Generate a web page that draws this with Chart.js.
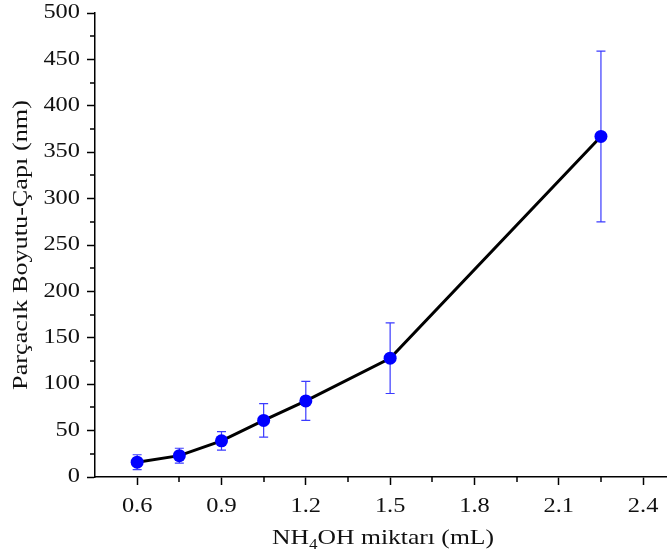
<!DOCTYPE html>
<html>
<head>
<meta charset="utf-8">
<script src="https://cdn.jsdelivr.net/npm/chart.js@4"></script>
<style>
  body { margin: 0; background: #fff; }
  #wrap { width: 667px; height: 557px; position: relative; }
</style>
</head>
<body>
<div id="wrap"><canvas id="sizeChart"></canvas></div>
<script>
// data
var amounts = [0.6, 0.75, 0.9, 1.05, 1.2, 1.5, 2.25];     // NH4OH (mL)
var sizes = [16, 23, 39, 61, 82, 128, 367];              // particle size (nm)
var sizeErr = [8, 8, 10, 18, 21, 38, 92];
var xTicks = [0.6, 0.9, 1.2, 1.5, 1.8, 2.1, 2.4];
var xMinorTicks = [0.75, 1.05, 1.35, 1.65, 1.95, 2.25];
var yMinorTicks = [25, 75, 125, 175, 225, 275, 325, 375, 425, 475];

var serif = "'Liberation Serif', 'Times New Roman', serif";
var stretch = 1.22; // the original font is wider than Liberation Serif

// widen every text draw a little around its anchor point
var wideText = {
  id: 'wideText',
  beforeDraw: function(chart) {
    var ctx = chart.ctx;
    if (ctx._wide) return;
    var orig = ctx.fillText;
    ctx.fillText = function(t, x, y) {
      this.save();
      this.translate(x, y);
      this.scale(stretch, 1);
      orig.call(this, t, 0, 0);
      this.restore();
    };
    ctx._wide = true;
  }
};

// error bars, drawn under the markers
var errorBars = {
  id: 'errorBars',
  beforeDatasetsDraw: function(chart) {
    var ctx = chart.ctx, xs = chart.scales.x, ys = chart.scales.y;
    ctx.save();
    ctx.strokeStyle = '#3b3bff';
    ctx.lineWidth = 1.2;
    for (var i = 0; i < amounts.length; i++) {
      var px = xs.getPixelForValue(amounts[i]);
      var top = ys.getPixelForValue(sizes[i] + sizeErr[i]);
      var bot = ys.getPixelForValue(sizes[i] - sizeErr[i]);
      ctx.beginPath();
      ctx.moveTo(px, top); ctx.lineTo(px, bot);
      ctx.moveTo(px - 4.5, top); ctx.lineTo(px + 4.5, top);
      ctx.moveTo(px - 4.5, bot); ctx.lineTo(px + 4.5, bot);
      ctx.stroke();
    }
    ctx.restore();
  }
};

// minor ticks and the x title with subscript
var extras = {
  id: 'extras',
  afterDraw: function(chart) {
    var ctx = chart.ctx, xs = chart.scales.x, ys = chart.scales.y, area = chart.chartArea;
    ctx.save();
    ctx.strokeStyle = '#000';
    ctx.lineWidth = 1.5;
    ctx.beginPath();
    xMinorTicks.forEach(function(v) {
      var px = Math.round(xs.getPixelForValue(v));
      ctx.moveTo(px, area.bottom); ctx.lineTo(px, area.bottom + 5);
    });
    yMinorTicks.forEach(function(v) {
      var py = Math.round(ys.getPixelForValue(v));
      ctx.moveTo(area.left, py); ctx.lineTo(area.left - 5, py);
    });
    ctx.stroke();

    // x axis title: NH4OH miktarı (mL)
    var big = '21px ' + serif, small = '14px ' + serif;
    var parts = [['NH', big, 0], ['4', small, 5], ['OH miktarı (mL)', big, 0]];
    var total = 0;
    parts.forEach(function(p) { ctx.font = p[1]; total += ctx.measureText(p[0]).width * stretch; });
    var x = (area.left + area.right) / 2 - total / 2 + 2;
    var base = 544;
    ctx.fillStyle = '#111';
    ctx.textBaseline = 'alphabetic';
    ctx.textAlign = 'left';
    parts.forEach(function(p) {
      ctx.font = p[1];
      ctx.fillText(p[0], x, base + p[2]);
      x += ctx.measureText(p[0]).width * stretch;
    });
    ctx.restore();
  }
};

var points = amounts.map(function(a, i) { return { x: a, y: sizes[i] }; });

new Chart(document.getElementById('sizeChart').getContext('2d'), {
  type: 'line',
  data: {
    datasets: [{
      data: points,
      borderColor: '#000',
      borderWidth: 3,
      tension: 0,
      pointRadius: 6.5,
      pointBackgroundColor: '#0000ff',
      pointBorderColor: '#0000ff',
      pointBorderWidth: 0,
      clip: false
    }]
  },
  options: {
    responsive: true,
    maintainAspectRatio: false,
    animation: false,
    events: [],
    layout: { autoPadding: false, padding: { top: 13, right: 0, left: 0, bottom: 0 } },
    plugins: { legend: { display: false }, tooltip: { enabled: false } },
    scales: {
      x: {
        type: 'linear',
        min: 0.45,
        max: 2.485,
        afterBuildTicks: function(scale) {
          scale.ticks = xTicks.map(function(v) { return { value: v }; });
        },
        afterFit: function(scale) {
          scale.height = 80;
          scale.paddingLeft = 0;
          scale.paddingRight = 0;
        },
        grid: { drawOnChartArea: false, tickLength: 8, tickColor: '#000', tickWidth: 1.5 },
        border: { color: '#000', width: 1.5 },
        ticks: {
          color: '#111',
          padding: 10,
          maxRotation: 0,
          font: { family: serif, size: 20 },
          callback: function(v) { return v.toFixed(1); }
        }
      },
      y: {
        min: 0,
        max: 500,
        afterFit: function(scale) {
          scale.width = 95;
          scale.paddingTop = 0;
          scale.paddingBottom = 0;
        },
        grid: { drawOnChartArea: false, tickLength: 8, tickColor: '#000', tickWidth: 1.5 },
        border: { color: '#000', width: 1.5 },
        ticks: {
          stepSize: 50,
          color: '#111',
          padding: 7,
          font: { family: serif, size: 20 }
        },
        title: {
          display: true,
          text: 'Parçacık Boyutu-Çapı (nm)',
          color: '#111',
          font: { family: serif, size: 21.5 },
          padding: { top: 8, bottom: 0 }
        }
      }
    }
  },
  plugins: [wideText, errorBars, extras]
});
</script>
</body>
</html>
